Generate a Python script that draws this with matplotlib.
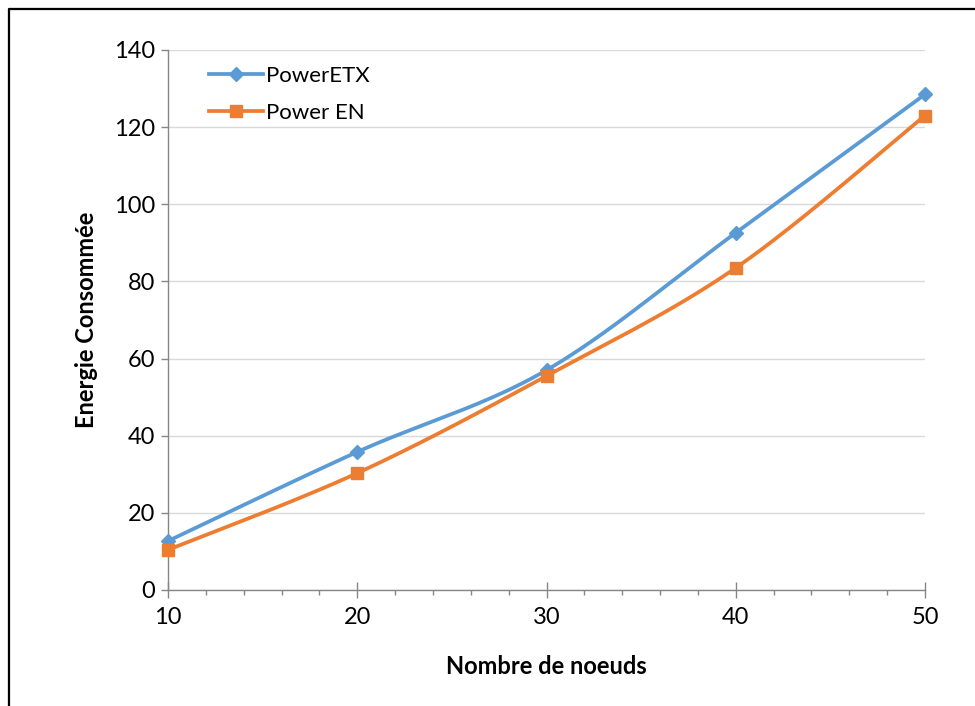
import numpy as np
import matplotlib
matplotlib.use("Agg")
import matplotlib.pyplot as plt
from matplotlib.lines import Line2D

nodes = [10, 20, 30, 40, 50]
power_etx = [12.7, 35.8, 57.0, 92.6, 128.5]
power_en = [10.4, 30.3, 55.5, 83.5, 123.0]
series_names = ["PowerETX", "Power EN"]
y_ticks = [0, 20, 40, 60, 80, 100, 120, 140]
x_ticks = [10, 20, 30, 40, 50]

BLUE = "#5B9BD5"
ORANGE = "#ED7D31"

plt.rcParams['font.family'] = ['Lato', 'DejaVu Sans']


def smooth(xs, ys, n=40):
    xs = np.asarray(xs, float)
    ys = np.asarray(ys, float)
    P = np.column_stack([xs, ys])
    Pe = np.vstack([P[0], P, P[-1]])
    out = []
    for i in range(len(P) - 1):
        p0, p1, p2, p3 = Pe[i], Pe[i + 1], Pe[i + 2], Pe[i + 3]
        c1 = p1 + (p2 - p0) / 6.0
        c2 = p2 - (p3 - p1) / 6.0
        t = np.linspace(0, 1, n)[:, None]
        seg = ((1 - t) ** 3) * p1 + 3 * ((1 - t) ** 2) * t * c1 + 3 * (1 - t) * t ** 2 * c2 + t ** 3 * p2
        out.append(seg if i == 0 else seg[1:])
    out = np.vstack(out)
    return out[:, 0], out[:, 1]


fig = plt.figure(figsize=(9.75, 7.06), dpi=100)
ax = fig.add_axes([168 / 975, 1 - 590 / 706, (925 - 168) / 975, (590 - 50) / 706])

ax.set_xlim(10, 50)
ax.set_ylim(0, 140)
ax.set_yticks(y_ticks)
ax.set_xticks(x_ticks)
ax.set_xticks(np.arange(10, 51, 2), minor=True)

ax.grid(axis='y', color='#D9D9D9', linewidth=1.0, zorder=0)
ax.set_axisbelow(True)

for sp in ['top', 'right']:
    ax.spines[sp].set_visible(False)
for sp in ['left', 'bottom']:
    ax.spines[sp].set_color('#868686')
    ax.spines[sp].set_linewidth(1.0)

ax.tick_params(axis='y', which='major', direction='out', length=5, width=1,
               color='#868686', labelsize=17, pad=4)
ax.tick_params(axis='x', which='major', direction='inout', length=12, width=1,
               color='#868686', labelsize=17, pad=6)
ax.tick_params(axis='x', which='minor', direction='out', length=3.6, width=1,
               color='#868686')
ax.tick_params(axis='y', which='minor', left=False)

for ys, col, mk, ms, name in [(power_etx, BLUE, 'D', 7, series_names[0]),
                              (power_en, ORANGE, 's', 9, series_names[1])]:
    sx, sy = smooth(nodes, ys)
    ax.plot(sx, sy, color=col, linewidth=2.7, zorder=3, clip_on=False,
            solid_capstyle='round')
    ax.plot(nodes, ys, linestyle='none', marker=mk, markersize=ms, color=col,
            zorder=4, clip_on=False)

handles = [Line2D([], [], color=BLUE, linewidth=2.7, marker='D', markersize=7),
           Line2D([], [], color=ORANGE, linewidth=2.7, marker='s', markersize=9)]
ax.legend(handles, series_names, loc='upper left', bbox_to_anchor=(0.037, 0.995),
          frameon=False, fontsize=16, handlelength=2.4, handletextpad=0.15,
          labelspacing=0.75, borderaxespad=0.2)

ax.set_xlabel("Nombre de noeuds", fontsize=17, fontweight='bold', labelpad=20)
ax.set_ylabel("Energie Consommée", fontsize=17, fontweight='bold', labelpad=12)

# outer frame (left and top edges visible)
x0 = 9 / 975
y0 = 1 - 9 / 706
fig.add_artist(Line2D([x0 - 1.5 / 975, x0 - 1.5 / 975, 1], [0, y0 + 1.5 / 706, y0 + 1.5 / 706],
                      transform=fig.transFigure, color='#A0A0A0', linewidth=0.8))
fig.add_artist(Line2D([x0, x0, 1], [0, y0, y0], transform=fig.transFigure,
                      color='black', linewidth=1.6))

fig.savefig("out.png", dpi=100)
